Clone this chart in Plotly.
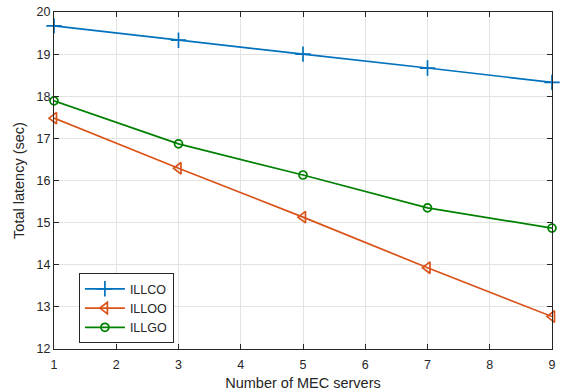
import plotly.graph_objects as go

# Number of MEC servers and total latency per scheme
servers = [1, 3, 5, 7, 9]
illco = [19.67, 19.33, 19.00, 18.67, 18.33]
illoo = [17.48, 16.29, 15.13, 13.93, 12.77]
illgo = [17.89, 16.87, 16.13, 15.35, 14.87]

x_ticks = list(range(1, 10))
y_ticks = list(range(12, 21))

series = [
    ("ILLCO", illco, "#0072BD", "cross-thin-open", 11),
    ("ILLOO", illoo, "#D95319", "triangle-left-open", 10),
    ("ILLGO", illgo, "#008000", "circle-open", 8),
]

fig = go.Figure()
for name, vals, color, symbol, size in series:
    fig.add_trace(go.Scatter(
        x=servers, y=vals, name=name, mode="lines+markers",
        line=dict(color=color, width=1.7),
        marker=dict(symbol=symbol, size=size, color=color,
                    line=dict(color=color, width=1.7)),
        cliponaxis=False,
    ))

font_family = "Liberation Sans, Arial, Helvetica"
axis_common = dict(
    showline=True, linecolor="#262626", linewidth=1, mirror="ticks",
    ticks="inside", ticklen=5, tickcolor="#262626",
    showgrid=True, gridcolor="#e3e3e3", gridwidth=1,
    zeroline=False, automargin=False,
    tickfont=dict(family=font_family, size=12.5, color="#262626"),
)

fig.update_layout(
    width=564, height=391,
    margin=dict(l=54, r=12, t=12, b=42, autoexpand=False),
    paper_bgcolor="white", plot_bgcolor="white",
    font=dict(family=font_family, color="#262626"),
    xaxis=dict(axis_common, range=[1, 9], tickvals=x_ticks, ticklabelstandoff=4,
               title=dict(text="Number of MEC servers", font=dict(size=14.5), standoff=6)),
    yaxis=dict(axis_common, range=[12, 20], tickvals=y_ticks,
               title=dict(text="Total latency (sec)", font=dict(size=14.5), standoff=8)),
    legend=dict(
        x=0.05, y=0.225, xanchor="left", yanchor="top",
        bgcolor="white", bordercolor="#262626", borderwidth=1,
        font=dict(size=12.5, color="#262626"),
        itemwidth=40, tracegroupgap=0,
    ),
    showlegend=True,
)

fig.write_html("out.html")
